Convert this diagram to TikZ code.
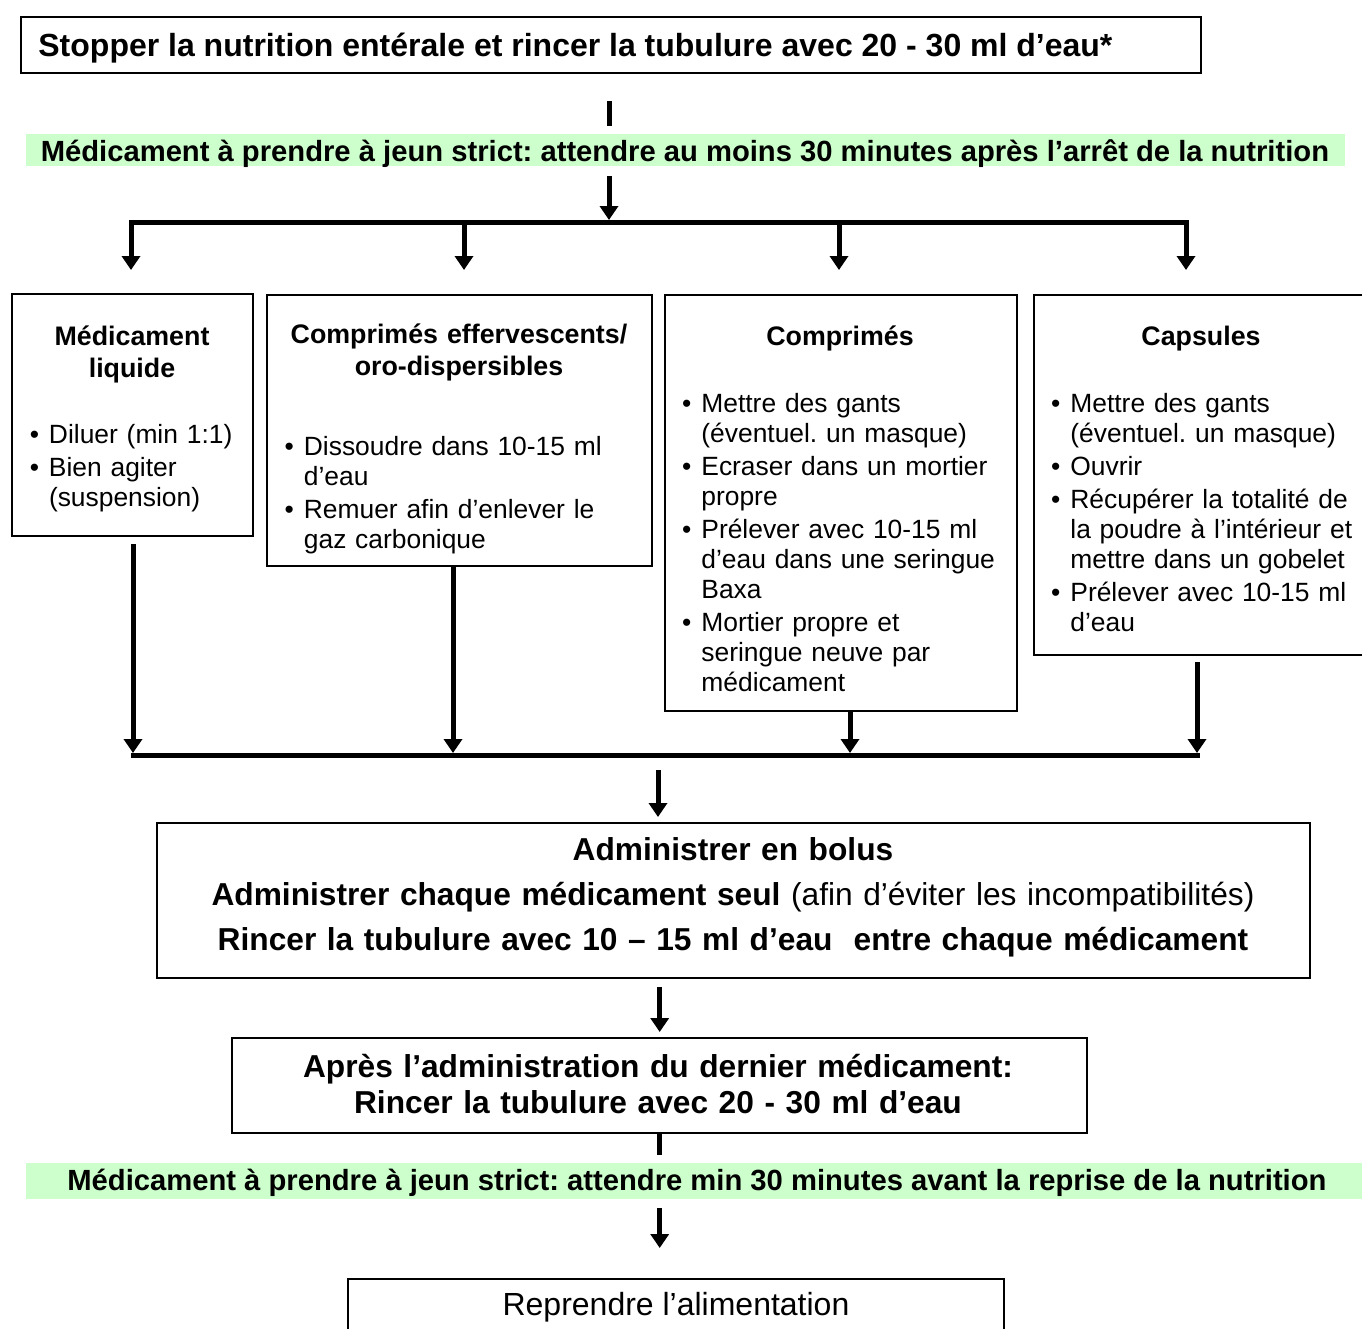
\documentclass[tikz,border=0pt]{standalone}
\usepackage{fontspec}
\setmainfont{Liberation Sans}
\usepackage{xcolor}
\usetikzlibrary{arrows.meta}

\definecolor{bandgreen}{RGB}{204,255,204}
\newcommand\itm[1]{\hangindent=9.6pt\hangafter=1\noindent\makebox[9.6pt][l]{\textbullet}#1\par\vspace{1.6pt}}
\frenchspacing

\begin{document}
\begin{tikzpicture}[x=0.5pt,y=0.5pt,yscale=-1,xscale=1,
  box/.style={draw, line width=1.2pt, inner sep=0pt, anchor=north west},
  band/.style={fill=bandgreen, inner sep=0pt, anchor=north west},
  arr/.style={line width=2.5pt, -{Triangle[width=9pt,length=7pt]}},
  bar/.style={line width=2.5pt},
  hdtxt/.style={inner sep=0pt, font=\bfseries\fontsize{16}{18}\selectfont},
  bandtxt/.style={inner sep=0pt, anchor=base, font=\bfseries\fontsize{14.6}{16}\selectfont},
  titletxt/.style={inner sep=0pt, anchor=base, text width=190pt, align=center, font=\bfseries\fontsize{13.4}{16}\selectfont},
  listtxt/.style={inner sep=0pt, anchor=base west, text width=170pt, align=left, font=\fontsize{13.2}{15}\selectfont}]
\useasboundingbox (0,0) rectangle (1362,1329);

%Shape: Rectangle
\node[box, minimum width=590pt, minimum height=28pt] (stop) at (20,16) {};
\node[band, minimum width=659.5pt, minimum height=16pt] (band1) at (26,134) {};
\node[box, minimum width=120.5pt, minimum height=121pt] (liq) at (11,293) {};
\node[box, minimum width=192.5pt, minimum height=135.5pt] (eff) at (266,294) {};
\node[box, minimum width=176pt, minimum height=208pt] (comp) at (664,294) {};
\node[box, minimum width=168pt, minimum height=180pt] (caps) at (1033,294) {};
\node[box, minimum width=576.5pt, minimum height=77.5pt] (admin) at (156,822) {};
\node[box, minimum width=427.5pt, minimum height=47.5pt] (apres) at (231,1037) {};
\node[band, minimum width=672pt, minimum height=18pt] (band2) at (26,1163) {};
\node[box, minimum width=328pt, minimum height=33.5pt] (resume) at (347,1278) {};

% Text Node
\node[hdtxt, anchor=base west] (stoptxt) at (38,56) {Stopper la nutrition entérale et rincer la tubulure avec 20 - 30 ml d’eau*};
% Text Node
\node[bandtxt] (band1txt) at (685,161) {Médicament à prendre à jeun strict: attendre au moins 30 minutes après l’arrêt de la nutrition};
% Text Node
\node[titletxt] (liqtitle) at (132,345) {Médicament\\liquide};
\node[titletxt] (efftitle) at (459,343) {Comprimés effervescents/\\oro-dispersibles};
\node[titletxt] (comptitle) at (840,345) {Comprimés};
\node[titletxt] (capstitle) at (1201,345) {Capsules};
% Text Node
\node[listtxt] (liqlist) at (29.4,443) {\itm{Diluer (min 1:1)}\itm{Bien agiter\newline (suspension)}};
\node[listtxt] (efflist) at (284.3,455) {\itm{Dissoudre dans 10-15 ml\newline d’eau}\itm{Remuer afin d’enlever le\newline gaz carbonique}};
\node[listtxt] (complist) at (681.8,412) {\itm{Mettre des gants\newline (éventuel. un masque)}\itm{Ecraser dans un mortier\newline propre}\itm{Prélever avec 10-15 ml\newline d’eau dans une seringue\newline Baxa}\itm{Mortier propre et\newline seringue neuve par\newline médicament}};
\node[listtxt] (capslist) at (1050.8,412) {\itm{Mettre des gants\newline (éventuel. un masque)}\itm{Ouvrir}\itm{Récupérer la totalité de\newline la poudre à l’intérieur et\newline mettre dans un gobelet}\itm{Prélever avec 10-15 ml\newline d’eau}};
% Text Node
\node[inner sep=0pt, anchor=base, text width=570pt, align=center, font=\fontsize{15.85}{22.5}\selectfont] (admintxt) at (733,860) {\textbf{Administrer en bolus}\\\textbf{Administrer chaque médicament seul} (afin d’éviter les incompatibilités)\\\textbf{Rincer la tubulure avec 10 – 15 ml d’eau~ entre chaque médicament}};
% Text Node
\node[hdtxt, anchor=base, text width=420pt, align=center, font=\bfseries\fontsize{15.85}{18}\selectfont] (aprestxt) at (658,1077) {Après l’administration du dernier médicament:\\Rincer la tubulure avec 20 - 30 ml d’eau};
% Text Node
\node[bandtxt] (band2txt) at (697,1190) {Médicament à prendre à jeun strict: attendre min 30 minutes avant la reprise de la nutrition};
% Text Node
\node[inner sep=0pt, anchor=base, font=\fontsize{16}{18}\selectfont] (resumetxt) at (676,1315) {Reprendre l’alimentation};

\coordinate (split) at (609,222);
\coordinate (j1) at (131,222);
\coordinate (j2) at (464,222);
\coordinate (j3) at (839,222);
\coordinate (j4) at (1186,222);
\coordinate (k1) at (133,755);
\coordinate (k2) at (453,755);
\coordinate (k3) at (850,755);
\coordinate (k4) at (1197,755);
\coordinate (m) at (658,755);

%Straight Lines
\draw[bar, shorten <=13.5pt, shorten >=4pt] (stop.south -| split) -- (band1.north -| split);
\draw[arr, shorten <=4.5pt, shorten >=1pt] (band1.south -| split) -- (split);
\draw[bar, line cap=rect] (j1) -- (j4);
\draw[arr, shorten >=11.5pt] (j1) -- (j1 |- liq.north);
\draw[arr, shorten >=12pt] (j2) -- (j2 |- eff.north);
\draw[arr, shorten >=12pt] (j3) -- (j3 |- comp.north);
\draw[arr, shorten >=12pt] (j4) -- (j4 |- caps.north);
%Straight Lines
\draw[arr, shorten <=3.5pt, shorten >=1pt] (k1 |- liq.south) -- (k1);
\draw[arr, shorten >=1pt] (k2 |- eff.south) -- (k2);
\draw[arr, shorten >=1pt] (k3 |- comp.south) -- (k3);
\draw[arr, shorten <=3pt, shorten >=1pt] (k4 |- caps.south) -- (k4);
\draw[bar, line cap=rect] (k1) -- (k4);
%Straight Lines
\draw[arr, shorten <=7.5pt, shorten >=2.5pt] (m) -- (m |- admin.north);
\draw[arr, shorten <=4pt, shorten >=2.5pt] (apres.north |- admin.south) -- (apres.north);
\draw[bar, shorten >=4pt] (apres.south) -- (apres.south |- band2.north);
\draw[arr, shorten <=4pt, shorten >=15pt] (apres.south |- band2.south) -- (apres.south |- resume.north);
\end{tikzpicture}
\end{document}
